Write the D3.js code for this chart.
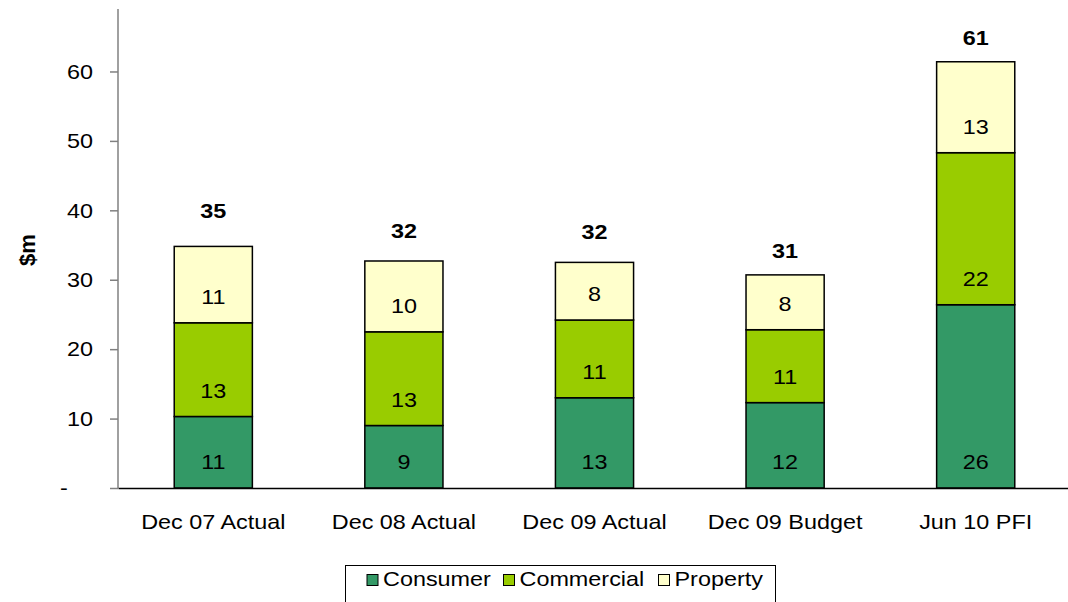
<!DOCTYPE html>
<html>
<head>
<meta charset="utf-8">
<script src="https://cdn.jsdelivr.net/npm/d3@7"></script>
<style>
  html, body { margin: 0; padding: 0; background: #fff; }
  svg { display: block; }
  text { font-family: "Liberation Sans", Arial, sans-serif; fill: #000; }
</style>
</head>
<body>
<svg id="chart" width="1068" height="602"></svg>
<script>
// ---- data ----
const categories = ["Dec 07 Actual", "Dec 08 Actual", "Dec 09 Actual", "Dec 09 Budget", "Jun 10 PFI"];
const seriesNames = ["Consumer", "Commercial", "Property"];
const consumer   = [10.3, 9.0, 13.0, 12.3, 26.4];
const commercial = [13.5, 13.5, 11.2, 10.5, 21.9];
const property   = [11.0, 10.2, 8.3, 7.9, 13.1];
const consumerLabels   = ["11", "9", "13", "12", "26"];
const commercialLabels = ["13", "13", "11", "11", "22"];
const propertyLabels   = ["11", "10", "8", "8", "13"];
const totalLabels      = ["35", "32", "32", "31", "61"];
const totalMarker      = [39.9, 37.0, 36.9, 34.1, 64.9]; // hidden series carrying the total labels
const yTicks = [0, 10, 20, 30, 40, 50, 60];
const yTitle = "$m";

// ---- styling ----
const colors = { Consumer: "#339966", Commercial: "#99CC00", Property: "#FFFFCC" };
const SX = 1.17; // horizontal stretch of the original picture
const FS = 20;
const HALF = 7.2;

const svg = d3.select("#chart");
const margin = { left: 118, top: 9 };
const x = d3.scaleBand().domain(categories).range([118, 1071]).paddingInner(0.59).paddingOuter(0.295);
const y = d3.scaleLinear().domain([0, 69]).range([488, 9]);

const labelsBy = { Consumer: consumerLabels, Commercial: commercialLabels, Property: propertyLabels };
const table = categories.map((c, i) => ({ cat: c, Consumer: consumer[i], Commercial: commercial[i], Property: property[i] }));
const stacked = d3.stack().keys(seriesNames)(table);

function stretchedText(g, tx, ty, str, opts = {}) {
  return g.append("text")
    .attr("transform", `translate(${tx},${ty}) scale(${opts.sx || SX},1)`)
    .attr("text-anchor", opts.anchor || "middle")
    .style("font-size", (opts.size || FS) + "px")
    .style("font-weight", opts.bold ? "bold" : "normal")
    .text(str);
}

// bars
const gBars = svg.append("g");
stacked.forEach(layer => {
  const key = layer.key;
  layer.forEach((d, i) => {
    gBars.append("rect")
      .attr("x", x(categories[i]))
      .attr("y", y(d[1]))
      .attr("width", x.bandwidth())
      .attr("height", y(d[0]) - y(d[1]))
      .attr("fill", colors[key])
      .attr("stroke", "#000")
      .attr("stroke-width", 1.5);
  });
});

// segment labels (inside base)
const gLab = svg.append("g");
stacked.forEach(layer => {
  const key = layer.key;
  layer.forEach((d, i) => {
    stretchedText(gLab, x(categories[i]) + x.bandwidth() / 2, y(d[0]) - 26 + HALF, labelsBy[key][i]);
  });
});

// total labels
totalLabels.forEach((t, i) => {
  stretchedText(gLab, x(categories[i]) + x.bandwidth() / 2, y(totalMarker[i]) + HALF, t, { bold: true });
});

// y axis
const gY = svg.append("g").attr("transform", `translate(${margin.left},0)`);
gY.call(d3.axisLeft(y).tickValues(yTicks).tickSize(8).tickFormat(""));
gY.select(".domain").attr("stroke", "#808080").attr("stroke-width", 1.5).attr("d", `M0,${y(0)}V${margin.top}`);
gY.selectAll(".tick line").attr("stroke", "#808080").attr("stroke-width", 1.5);
yTicks.forEach(v => {
  if (v === 0) {
    stretchedText(svg, 64, y(v) + HALF, "-");
  } else {
    stretchedText(svg, 93, y(v) + HALF, String(v), { anchor: "end" });
  }
});

// x axis
const gX = svg.append("g").attr("transform", `translate(0,${y(0)})`);
gX.call(d3.axisBottom(x).tickSize(0).tickFormat(""));
gX.select(".domain").attr("stroke", "#000").attr("stroke-width", 1.5);
categories.forEach(c => {
  stretchedText(svg, x(c) + x.bandwidth() / 2, 522 + HALF, c);
});

// y title
svg.append("text")
  .attr("transform", "translate(35,250) rotate(-90)")
  .attr("text-anchor", "middle")
  .style("font-size", "22px")
  .style("font-weight", "bold")
  .text(yTitle);

// legend
const gL = svg.append("g");
gL.append("rect").attr("x", 345.5).attr("y", 565.5).attr("width", 430).attr("height", 60)
  .attr("fill", "#fff").attr("stroke", "#000").attr("stroke-width", 1);
const legendX = [367, 503.5, 658.5];
seriesNames.forEach((s, i) => {
  gL.append("rect").attr("x", legendX[i]).attr("y", 574.5).attr("width", 11).attr("height", 11)
    .attr("fill", colors[s]).attr("stroke", "#000").attr("stroke-width", 1);
  stretchedText(gL, legendX[i] + 16, 579 + HALF, s, { anchor: "start" });
});
</script>
</body>
</html>
